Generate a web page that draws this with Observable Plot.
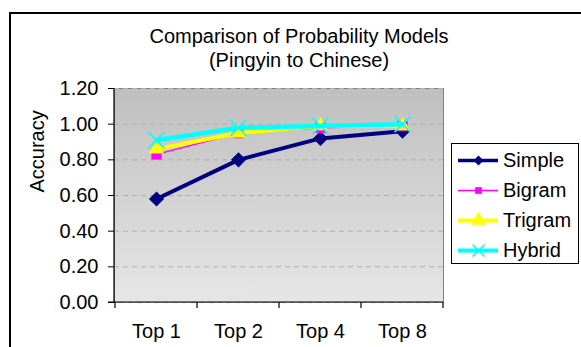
<!DOCTYPE html>
<html>
<head>
<meta charset="utf-8">
<script src="https://cdn.jsdelivr.net/npm/d3@7"></script>
<script src="https://cdn.jsdelivr.net/npm/@observablehq/plot@0.6"></script>
<style>
  body { margin: 0; background: #fff; }
  #chart { position: relative; width: 581px; height: 347px; overflow: hidden; font-family: "Liberation Sans", Arial, sans-serif; }
  #chart > svg { position: absolute; left: 0; top: 0; }
  #outline { position: absolute; left: 9px; top: 12px; width: 700px; height: 500px; border-left: 2px solid #000; border-top: 2px solid #000; pointer-events: none; }
  #legend { position: absolute; left: 451px; top: 143px; width: 126px; height: 119px; border: 1px solid #000; background: #fff; }
  #legend svg { display: block; }
</style>
</head>
<body>
<div id="chart"><div id="outline"></div><div id="legend"></div></div>
<script>
// Accuracy of each probability model, by number of candidates kept
const categories = ["Top 1", "Top 2", "Top 4", "Top 8"];
const seriesNames = ["Simple", "Bigram", "Trigram", "Hybrid"];
const simple  = [0.58, 0.80, 0.92, 0.96];
const bigram  = [0.83, 0.95, 0.98, 0.99];
const trigram = [0.86, 0.95, 0.99, 0.99];
const hybrid  = [0.91, 0.98, 0.99, 1.00];
const yTicks = [0, 0.2, 0.4, 0.6, 0.8, 1.0, 1.2];
const titleLines = ["Comparison of Probability Models", "(Pingyin to Chinese)"];
const yLabel = "Accuracy";

const seriesValues = [simple, bigram, trigram, hybrid];
const rows = seriesNames.flatMap((s, i) =>
  categories.map((c, j) => ({series: s, category: c, value: seriesValues[i][j]}))
);

// Per-series look: colour, line widths (plot / legend), marker symbol and radii (plot / legend)
const styles = {
  Simple:  {color: "#000080", width: 4,   lw: 3.4, symbol: "diamond2", r: 6.8, lr: 4.5, fill: true},
  Bigram:  {color: "#ff00ff", width: 1.3, lw: 1.3, symbol: "square",   r: 5.8, lr: 3.8, fill: true},
  Trigram: {color: "#ffff00", width: 4,   lw: 4,   symbol: "triangle", r: 5.6, lr: 5.6, fill: true},
  Hybrid:  {color: "#00ffff", width: 4.5, lw: 4,   symbol: "times",    r: 7.3, lr: 5.5, fill: false}
};

const font = "Liberation Sans, Arial, sans-serif";
const fs = 20;

// Vertical grey gradient behind the plotting area
const gradientDefs = () => {
  const defs = d3.create("svg:defs");
  const g = defs.append("linearGradient").attr("id", "plot-bg")
    .attr("x1", 0).attr("y1", 0).attr("x2", 0).attr("y2", 1);
  g.append("stop").attr("offset", "0%").attr("stop-color", "#bfbfbf");
  g.append("stop").attr("offset", "100%").attr("stop-color", "#e6e6e6");
  return defs.node();
};

// Left and bottom axis lines, with x ticks on the category boundaries
const axisEdges = (index, scales, values, dims) => {
  const {width, height, marginLeft, marginRight, marginTop, marginBottom} = dims;
  const x0 = marginLeft, x1 = width - marginRight, y0 = marginTop, y1 = height - marginBottom;
  const g = d3.create("svg:g").attr("stroke", "#000").attr("stroke-width", 1.2).attr("fill", "none");
  g.append("line").attr("x1", x0).attr("x2", x0).attr("y1", y0).attr("y2", y1 + 0.5);
  g.append("line").attr("x1", x0 - 6).attr("x2", x1).attr("y1", y1).attr("y2", y1);
  const bounds = categories.map(c => scales.x(c)).concat([x1]);
  for (const b of bounds) g.append("line").attr("x1", b).attr("x2", b).attr("y1", y1).attr("y2", y1 + 6);
  return g.node();
};

const seriesMarks = seriesNames.flatMap(s => {
  const st = styles[s];
  const data = rows.filter(d => d.series === s);
  return [
    Plot.line(data, {x: "category", y: "value", stroke: st.color, strokeWidth: st.width}),
    Plot.dot(data, {
      x: "category", y: "value", symbol: st.symbol, r: st.r,
      fill: st.fill ? st.color : "none", stroke: st.fill ? "none" : st.color,
      strokeWidth: st.fill ? 0 : 1.6
    })
  ];
});

const chart = Plot.plot({
  width: 581,
  height: 347,
  marginLeft: 114,
  marginRight: 138,
  marginTop: 88,
  marginBottom: 45,
  style: {fontFamily: font, fontSize: fs + "px", background: "transparent", color: "#000"},
  x: {type: "band", domain: categories, padding: 0, label: null},
  y: {domain: [0, 1.2], label: null},
  marks: [
    gradientDefs,
    Plot.frame({fill: "url(#plot-bg)", stroke: "#808080"}),
    Plot.gridY(yTicks, {stroke: "#b0b0b0", strokeOpacity: 1, strokeDasharray: "5,4"}),
    axisEdges,
    Plot.axisY(yTicks, {tickFormat: d3.format(".2f"), tickSize: 6, tickPadding: 10, stroke: "#000", fontSize: fs}),
    Plot.axisX({tickSize: 0, tickPadding: 21, fontSize: fs}),
    Plot.text([yLabel], {frameAnchor: "left", rotate: -90, dx: -77, dy: -3, fontSize: fs, fill: "#000"}),
    Plot.text([titleLines.join("\n")], {frameAnchor: "top", dx: 20, dy: -22, lineAnchor: "bottom", lineHeight: 1.17, fontSize: fs, fill: "#000"}),
    ...seriesMarks
  ]
});
document.getElementById("chart").prepend(chart);

// Legend: one row per model, sample line with its marker and name
const legendMarks = seriesNames.flatMap(s => {
  const st = styles[s];
  return [
    Plot.ruleY([s], {y: d => d, stroke: st.color, strokeWidth: st.lw}),
    Plot.dot([s], {
      y: d => d, symbol: st.symbol, r: st.lr,
      fill: st.fill ? st.color : "none", stroke: st.fill ? "none" : st.color,
      strokeWidth: st.fill ? 0 : 1.5
    }),
    Plot.text([s], {y: d => d, frameAnchor: "right", dx: 4.5, textAnchor: "start", fontSize: fs, fill: "#000"})
  ];
});

const legend = Plot.plot({
  width: 126,
  height: 119,
  marginLeft: 6,
  marginRight: 80,
  marginTop: 16,
  marginBottom: 13,
  style: {fontFamily: font, fontSize: fs + "px", background: "transparent", overflow: "visible"},
  x: {axis: null},
  y: {type: "point", domain: seriesNames, padding: 0, axis: null},
  marks: legendMarks
});
document.getElementById("legend").append(legend);
</script>
</body>
</html>
